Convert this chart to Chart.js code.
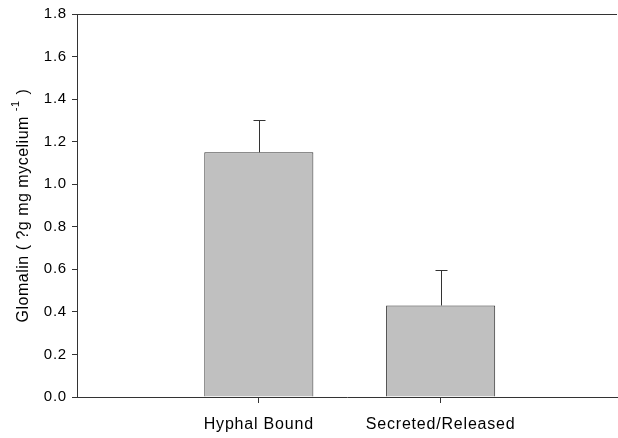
<!DOCTYPE html>
<html>
<head>
<meta charset="utf-8">
<script src="https://cdn.jsdelivr.net/npm/chart.js@4"></script>
<style>
  html, body { margin: 0; padding: 0; background: #fff; }
</style>
</head>
<body>
<canvas id="glomalinChart" width="618" height="438"></canvas>
<script>
const categories = ["Hyphal Bound", "Secreted/Released"];
const positions = [1, 2];
const glomalinMeans = [1.15, 0.43];
const glomalinErrors = [0.15, 0.167];
const yTicks = [0, 0.2, 0.4, 0.6, 0.8, 1.0, 1.2, 1.4, 1.6, 1.8];

const FONT = "Liberation Sans, Arial, sans-serif";
const INK = "#333";

// upper error bars + top frame line + y title with superscript
const extras = {
  id: "extras",
  beforeUpdate(chart) {
    chart.ctx.letterSpacing = "0.8px";
  },
  afterDatasetsDraw(chart) {
    const { ctx, chartArea, scales } = chart;
    const x = scales.x, y = scales.y;
    ctx.save();
    ctx.strokeStyle = INK;
    ctx.lineWidth = 1;
    glomalinMeans.forEach((m, i) => {
      const px = Math.round(x.getPixelForValue(positions[i])) + 0.5;
      const top = y.getPixelForValue(m);
      const hi = Math.round(y.getPixelForValue(m + glomalinErrors[i])) + 0.5;
      ctx.beginPath();
      ctx.moveTo(px, top);
      ctx.lineTo(px, hi);
      ctx.moveTo(px - 6, hi);
      ctx.lineTo(px + 6, hi);
      ctx.stroke();
    });
    ctx.beginPath();
    ctx.moveTo(chartArea.left, Math.round(chartArea.top) + 0.5);
    ctx.lineTo(chartArea.right, Math.round(chartArea.top) + 0.5);
    ctx.stroke();

    // axis title
    ctx.letterSpacing = "0.5px";
    ctx.translate(28, (chartArea.top + chartArea.bottom) / 2);
    ctx.rotate(-Math.PI / 2);
    ctx.fillStyle = "#000";
    ctx.textBaseline = "alphabetic";
    const main = "Glomalin ( ?g mg mycelium ";
    const sup = "-1";
    const tail = ")";
    ctx.font = "16px " + FONT;
    const wMain = ctx.measureText(main).width;
    const wTail = ctx.measureText(tail).width;
    ctx.font = "11px " + FONT;
    const wSup = ctx.measureText(sup).width;
    let sx = -(wMain + wSup + 6 + wTail) / 2;
    ctx.textAlign = "left";
    ctx.font = "16px " + FONT;
    ctx.fillText(main, sx, 0);
    sx += wMain;
    ctx.font = "11px " + FONT;
    ctx.fillText(sup, sx, -9);
    sx += wSup + 6;
    ctx.font = "16px " + FONT;
    ctx.fillText(tail, sx, 0);
    ctx.restore();
  }
};

new Chart(document.getElementById("glomalinChart"), {
  type: "bar",
  data: {
    datasets: [{
      data: positions.map((p, i) => ({ x: p, y: glomalinMeans[i] })),
      backgroundColor: "#c0c0c0",
      borderColor: INK,
      borderWidth: 1,
      barPercentage: 0.6,
      categoryPercentage: 1.0
    }]
  },
  options: {
    responsive: false,
    animation: false,
    layout: { padding: { top: 10, right: 1, left: 0, bottom: 0 } },
    plugins: { legend: { display: false }, tooltip: { enabled: false } },
    scales: {
      x: {
        type: "linear",
        min: 0,
        max: 2.97,
        offset: false,
        afterBuildTicks: scale => { scale.ticks = positions.map(v => ({ value: v })); },
        afterFit: scale => { scale.height = 41; },
        grid: { offset: false, drawOnChartArea: false, drawTicks: true, tickLength: 6, color: INK },
        border: { display: true, color: INK, width: 1 },
        ticks: {
          color: "#000",
          font: { family: FONT, size: 16 },
          padding: 12,
          maxRotation: 0,
          autoSkip: false,
          callback: v => categories[positions.indexOf(v)] || ""
        }
      },
      y: {
        min: 0,
        max: 1.8,
        afterBuildTicks: scale => { scale.ticks = yTicks.map(v => ({ value: v })); },
        afterFit: scale => { scale.width = 77; },
        grid: { drawOnChartArea: false, drawTicks: true, tickLength: 5, color: INK },
        border: { display: true, color: INK, width: 1 },
        ticks: {
          color: "#000",
          font: { family: FONT, size: 15 },
          padding: 5,
          callback: v => v.toFixed(1)
        }
      }
    }
  },
  plugins: [extras]
});
</script>
</body>
</html>
